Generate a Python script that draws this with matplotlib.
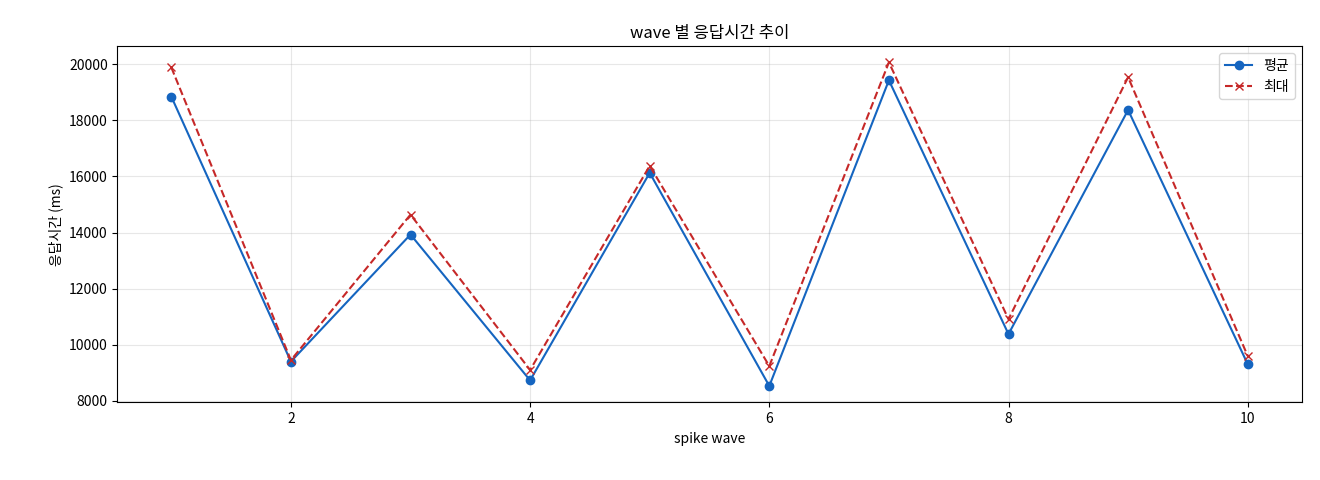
import matplotlib
matplotlib.use("Agg")
import matplotlib.pyplot as plt

plt.rcParams['font.family'] = ['Noto Sans CJK KR', 'DejaVu Sans']

waves = [1, 2, 3, 4, 5, 6, 7, 8, 9, 10]
avg_ms = [18850, 9400, 13930, 8730, 16130, 8530, 19430, 10380, 18370, 9310]
max_ms = [19890, 9450, 14640, 9100, 16380, 9240, 20070, 10910, 19540, 9600]

fig, ax = plt.subplots(figsize=(13.2, 4.8), dpi=100)
ax.plot(waves, avg_ms, '-o', color='#1565c0', markersize=6, linewidth=1.5, label='평균')
ax.plot(waves, max_ms, '--x', color='#c62828', markersize=6, linewidth=1.5, label='최대')

ax.set_title('wave 별 응답시간 추이', fontsize=12)
ax.set_xlabel('spike wave', fontsize=10)
ax.set_ylabel('응답시간 (ms)', fontsize=10)
ax.set_ylim(7950, 20650)
ax.grid(True, alpha=0.3)
ax.legend(loc='upper right', fontsize=10)

plt.subplots_adjust(left=0.089, right=0.986, top=0.904, bottom=0.162)
plt.savefig('out.png', dpi=100)
